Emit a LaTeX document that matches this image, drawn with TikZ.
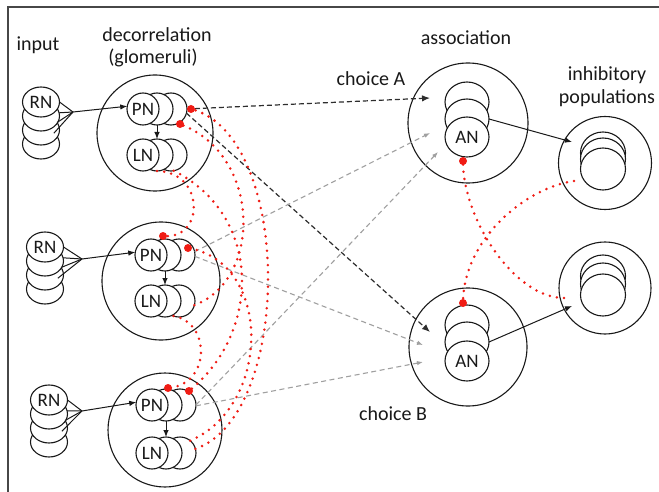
\documentclass[tikz,border=0pt]{standalone}
\usepackage{fontspec}
\setmainfont{Carlito}
\usetikzlibrary{arrows.meta,shapes.geometric}
\definecolor{inkred}{RGB}{240,28,20}
\definecolor{dashdark}{RGB}{45,45,45}
\definecolor{dashlight}{RGB}{160,160,160}
\definecolor{ink}{RGB}{25,25,25}

\begin{document}
\begin{tikzpicture}[x=1pt,y=-1pt,
  every node/.style={inner sep=0pt, outer sep=0pt},
  region/.style={circle, draw=ink, line width=1.1pt},
  cell/.style={ellipse, draw=ink, fill=white, line width=1.1pt,
    minimum width=32pt, minimum height=32pt, text=ink,
    font=\fontsize{19}{19}\selectfont},
  rncell/.style={cell, minimum width=37pt, minimum height=30pt},
  ancell/.style={cell, minimum width=44pt, minimum height=40pt},
  inhcell/.style={cell, minimum width=45pt, minimum height=42pt},
  heading/.style={font=\fontsize{20}{20}\selectfont, text=ink, anchor=base},
  feed/.style={draw=ink, line width=1pt},
  feedarrow/.style={feed, -{Latex[length=7pt,width=5.5pt]}},
  projA/.style={draw=dashdark, line width=1.2pt, dash pattern=on 5pt off 3pt,
    -{Latex[length=8pt,width=6.5pt]}},
  projB/.style={draw=dashlight, line width=1.1pt, dash pattern=on 5pt off 3.5pt,
    -{Latex[length=6pt,width=4.5pt]}},
  inhib/.style={draw=inkred, line width=2.8pt, line cap=round,
    dash pattern=on 0pt off 7.2pt},
  target/.style={circle, fill=inkred, minimum size=8pt},
]
\useasboundingbox (0,0) rectangle (659,492);
\fill[white] (0,0) rectangle (659,492);

% frame
\draw[ink!80, line width=1.4pt] (8,500) -- (8,7) -- (670,7);

% ---------- headings ----------
\node[heading] (lblInput) at (38,51) {input};
\node[heading] (lblDec) at (157,42) {decorrelation};
\node[heading] (lblGlom) at (153,64) {(glomeruli)};
\node[heading] (lblAssoc) at (466,45) {association};
\node[heading] (lblChA) at (371,86) {choice A};
\node[heading] (lblInh1) at (607,81) {inhibitory};
\node[heading] (lblInh2) at (607,104) {populations};
\node[heading] (lblChB) at (393,420) {choice B};

% ---------- receptor stacks ----------
\node[rncell] (rn1d) at (41,144) {};
\node[rncell] (rn1c) at (41,130) {};
\node[rncell] (rn1b) at (41,116) {};
\node[rncell] (rn1a) at (41,102) {RN};

\node[rncell] (rn2d) at (45,289) {};
\node[rncell] (rn2c) at (45,275) {};
\node[rncell] (rn2b) at (45,261) {};
\node[rncell] (rn2a) at (45,247) {RN};

\node[rncell] (rn3d) at (49,442) {};
\node[rncell] (rn3c) at (49,428) {};
\node[rncell] (rn3b) at (49,414) {};
\node[rncell] (rn3a) at (49,400) {RN};

% ---------- glomeruli ----------
\node[region, minimum size=116pt] (g1) at (155,133) {};
\node[region, minimum size=118pt] (g2) at (161,281) {};
\node[region, minimum size=114pt] (g3) at (165,430) {};

\node[cell] (pn1c) at (171,109) {};
\node[cell] (pn1b) at (157,109) {};
\node[cell] (pn1) at (143,109) {PN};
\node[cell] (ln1c) at (171,155) {};
\node[cell] (ln1b) at (157,155) {};
\node[cell] (ln1) at (143,155) {LN};

\node[cell] (pn2c) at (179,255) {};
\node[cell] (pn2b) at (165,255) {};
\node[cell] (pn2) at (151,255) {PN};
\node[cell] (ln2c) at (179,301) {};
\node[cell] (ln2b) at (165,301) {};
\node[cell] (ln2) at (151,301) {LN};

\node[cell] (pn3c) at (180,405) {};
\node[cell] (pn3b) at (166,405) {};
\node[cell] (pn3) at (152,405) {PN};
\node[cell] (ln3c) at (180,453) {};
\node[cell] (ln3b) at (166,453) {};
\node[cell] (ln3) at (152,453) {LN};

% ---------- association ----------
\node[region, minimum size=120pt] (asA) at (468,123) {};
\node[ancell] (anAc) at (467,102) {};
\node[ancell] (anAb) at (467,119) {};
\node[ancell] (anA) at (467,137) {AN};

\node[region, minimum size=118pt] (asB) at (468,347) {};
\node[ancell] (anBc) at (467,325) {};
\node[ancell] (anBb) at (467,342) {};
\node[ancell] (anB) at (467,361) {AN};

% ---------- inhibitory populations ----------
\node[region, minimum size=93pt] (inA) at (605,163) {};
\node[inhcell] (inAc) at (603,153) {};
\node[inhcell] (inAb) at (603,159) {};
\node[inhcell] (inAa) at (603,169) {};

\node[region, minimum size=92pt] (inB) at (605,288) {};
\node[inhcell] (inBc) at (603,276) {};
\node[inhcell] (inBb) at (603,284) {};
\node[inhcell] (inBa) at (603,295) {};

% ---------- free ends ----------
\coordinate (j1) at (73,112);
\coordinate (j2) at (82,259);
\coordinate (j3) at (82,411);
\coordinate (hA) at (572,142);
\coordinate (hB) at (572,306);
\coordinate (cA1) at (430,98);
\coordinate (cB1) at (430,332);
\coordinate (cA2) at (430,133);
\coordinate (cB2) at (423,345);
\coordinate (cA3) at (438,152);
\coordinate (cB3) at (423,362);
\coordinate (iA) at (574,181);
\coordinate (iB) at (564,298);

% ---------- feed-forward input ----------
\foreach \g in {1,2,3}{
  \draw[feed] (rn\g a.0) -- (j\g);
  \draw[feed] (rn\g b.10) -- (j\g);
  \draw[feed] (rn\g c.25) -- (j\g);
  \draw[feed] (rn\g d.40) -- (j\g);
  \draw[feedarrow] (j\g) -- (pn\g.170);
  \draw[feedarrow] (pn\g b.south) -- (ln\g b.north);
}

% association to inhibitory populations
\draw[feedarrow] (anAb.east) -- (hA);
\draw[feedarrow] (anBb.east) -- (hB);

% ---------- projections to association ----------
\draw[projA] (pn1c.east) -- (cA1);
\draw[projA] (pn1c.-15) -- (cB1);
\draw[projB] (pn2c.12) -- (cA2);
\draw[projB] (pn2c.-5) -- (cB2);
\draw[projB] (pn3c.east) -- (cA3);
\draw[projB] (pn3c.-3) -- (cB3);

% ---------- inhibitory targets ----------
\node[target] (t1a) at (191,109) {};
\node[target] (t1b) at (180,124) {};
\node[target] (t2a) at (163,236) {};
\node[target] (t2b) at (188,248) {};
\node[target] (t3a) at (168,388) {};
\node[target] (t3b) at (189,391) {};
\node[target] (tA) at (463,161) {};
\node[target] (tB) at (463,303) {};

% lateral inhibition between glomeruli
\draw[inhib] (ln3c.15) .. controls (293,415) and (293,135) .. (t1a.center);
\draw[inhib] (ln2c.-15) .. controls (262,280) and (262,155) .. (t1b.center);
\draw[inhib] (ln1b.south) .. controls (205,172) and (205,240) .. (t2a.center);
\draw[inhib] (ln3c.50) .. controls (272,405) and (272,262) .. (t2b.center);
\draw[inhib] (ln2c.-110) .. controls (211,322) and (211,385) .. (t3a.center);
\draw[inhib] (ln1c.-80) .. controls (262,215) and (262,332) .. (t3b.center);

% mutual inhibition between choices
\draw[inhib] (iA) .. controls (525,188) and (463,240) .. (tB.center);
\draw[inhib] (iB) .. controls (515,298) and (463,220) .. (tA.center);

\end{tikzpicture}
\end{document}
